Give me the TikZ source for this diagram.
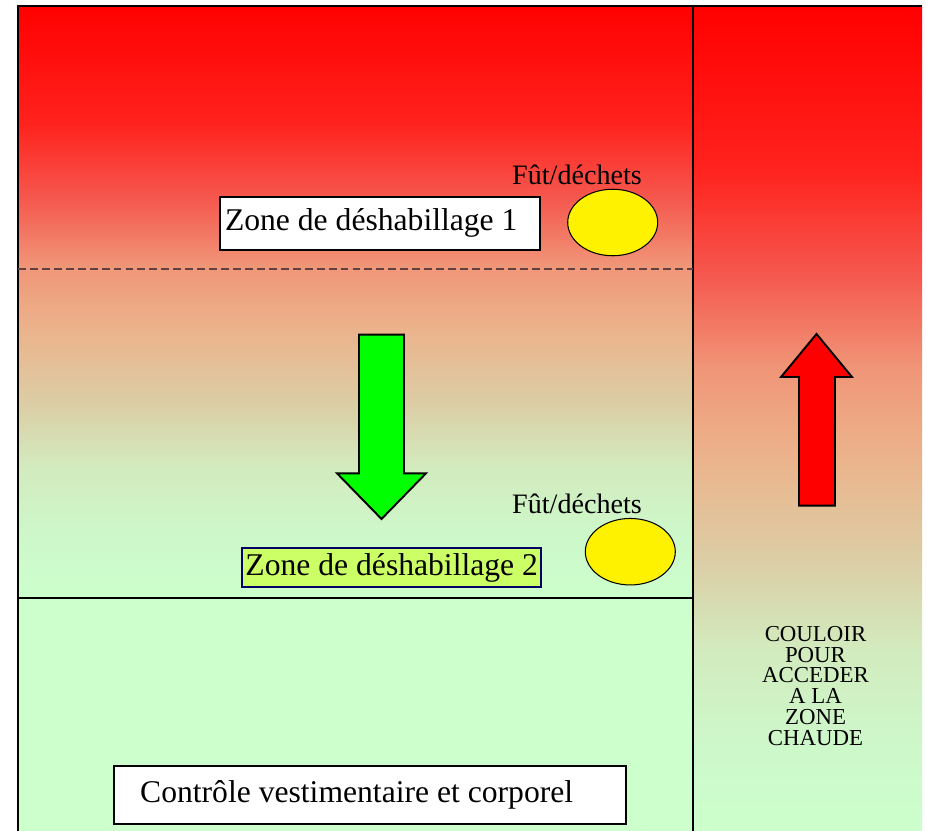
\documentclass[tikz,border=0pt]{standalone}
\usepackage{fontspec}
\setmainfont{Liberation Serif}
\usepackage{xcolor}
\usepackage{tikz}
\usetikzlibrary{shapes.geometric, positioning}

\definecolor{vertclair}{RGB}{204,255,204}
\definecolor{jaunevert}{RGB}{204,255,102}
\definecolor{marine}{RGB}{0,0,102}
\definecolor{tiret}{RGB}{96,64,64}

% rouge en haut, vert clair en bas
\pgfdeclareverticalshading{salle}{100bp}{%
  rgb(0bp)=(0.8,1,0.8); rgb(25bp)=(0.8,1,0.8);
  rgb(30bp)=(0.804,0.973,0.792); rgb(36bp)=(0.824,0.922,0.745);
  rgb(41.5bp)=(0.863,0.804,0.647); rgb(47.5bp)=(0.922,0.706,0.549);
  rgb(53bp)=(0.941,0.588,0.471); rgb(58.5bp)=(0.961,0.353,0.314);
  rgb(65bp)=(1,0.137,0.118); rgb(75bp)=(1,0,0); rgb(100bp)=(1,0,0)}

\begin{document}
\begin{tikzpicture}[
    x=0.02cm, y=-0.02cm,
    mur/.style={line width=1.6pt},
    cloison/.style={line width=1.1pt},
    zone/.style={font=\fontsize{18}{21}\selectfont},
    boite/.style={draw, fill=white, line width=1.1pt, zone},
    fut/.style={draw, ellipse, fill=yellow, line width=0.6pt, inner sep=0pt, minimum width=1.8cm, minimum height=1.33cm},
    futlabel/.style={font=\fontsize{16}{19}\selectfont, anchor=base},
    fleche/.style={draw, line width=1.1pt, line join=miter}
]
\useasboundingbox (0,0) rectangle (926,831);

% === FONDS ===
\shade[shading=salle] (18,6) rectangle (693,598);
\fill[vertclair] (18,598) rectangle (693,831);
\shade[shading=salle] (693,6) rectangle (922,831);

% === MURS ===
\draw[mur] (18,831) -- (18,6) -- (922,6);
\draw[cloison] (693,6) -- (693,831);
\draw[cloison] (18,598) -- (693,598);
\draw[tiret, line width=0.9pt, dash pattern=on 4.5pt off 2.3pt] (18,269) -- (693,269);

% === ZONE 1 ===
\node[boite, inner xsep=0.1cm, inner ysep=0pt, text width=6.2cm, align=flush left, minimum height=1.06cm] (zone1) at (380,223.3) {Zone de déshabillage 1};
\node[fut] (fut1) at (612.7,222.5) {};
\node[futlabel] (futlab1) at (577,185) {Fût/déchets};

% === ZONE 2 ===
\node[boite, draw=marine, fill=jaunevert, inner xsep=2pt, inner ysep=0pt, minimum width=5.93cm, minimum height=0.77cm] (zone2) at (391.7,567.7) {Zone de déshabillage 2};
\node[fut] (fut2) at (630.3,551.7) {};
\node[futlabel] (futlab2) at (577,513) {Fût/déchets};

% === CONTROLE ===
\node[boite, inner xsep=0.53cm, inner ysep=0pt, text width=9.19cm, align=flush left, minimum height=1.17cm] (controle) at (369.9,794.9) {Contrôle vestimentaire et corporel};

% === COULOIR ===
\node[font=\fontsize{13}{11.8}\selectfont, align=center, anchor=north, inner sep=0pt] (couloir) at (815.5,626) {COULOIR\\POUR\\ACCEDER\\A LA\\ZONE\\CHAUDE};

% === FLECHES ===
\draw[fleche, fill=green] (359,334.7) -- (404,334.7) -- (404,473.3) -- (426,473.3) -- (381.5,519) -- (337,473.3) -- (359,473.3) -- cycle;
\draw[fleche, fill=red] (799,505.7) -- (835,505.7) -- (835,377) -- (852,377) -- (816.5,334) -- (781,377) -- (799,377) -- cycle;

\end{tikzpicture}
\end{document}
